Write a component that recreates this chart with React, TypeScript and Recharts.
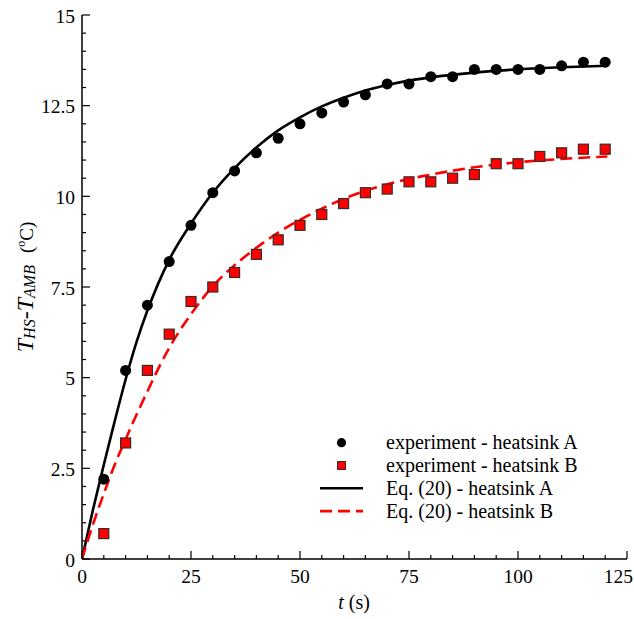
import React from "react";
import { ComposedChart, XAxis, YAxis, Line, Scatter } from "recharts";

// ---- data ----
const expT = [5, 10, 15, 20, 25, 30, 35, 40, 45, 50, 55, 60, 65, 70, 75, 80, 85, 90, 95, 100, 105, 110, 115, 120];
const expA = [2.2, 5.2, 7.0, 8.2, 9.2, 10.1, 10.7, 11.2, 11.6, 12.0, 12.3, 12.6, 12.8, 13.1, 13.1, 13.3, 13.3, 13.5, 13.5, 13.5, 13.5, 13.6, 13.7, 13.7];
const expB = [0.7, 3.2, 5.2, 6.2, 7.1, 7.5, 7.9, 8.4, 8.8, 9.2, 9.5, 9.8, 10.1, 10.2, 10.4, 10.4, 10.5, 10.6, 10.9, 10.9, 11.1, 11.2, 11.3, 11.3];

const curveT = [0, 2.5, 5, 7.5, 10, 12.5, 15, 17.5, 20, 25, 30, 35, 40, 45, 50, 55, 60, 65, 70, 75, 80, 90, 100, 110, 120.5];
const curveA = [0, 1.35, 2.6, 3.8, 4.95, 5.98, 6.85, 7.6, 8.25, 9.25, 10.1, 10.78, 11.35, 11.82, 12.18, 12.48, 12.72, 12.92, 13.07, 13.19, 13.28, 13.41, 13.5, 13.56, 13.6];
const curveB = [0, 0.95, 1.8, 2.6, 3.3, 3.98, 4.62, 5.25, 5.82, 6.75, 7.52, 8.1, 8.58, 9.0, 9.35, 9.66, 9.93, 10.15, 10.33, 10.48, 10.6, 10.8, 10.94, 11.03, 11.1];

const xMajorTicks = [0, 25, 50, 75, 100, 125];
const yMajorTicks = [0, 2.5, 5, 7.5, 10, 12.5, 15];
const legendLabels = [
  "experiment - heatsink A",
  "experiment - heatsink B",
  "Eq. (20) - heatsink A",
  "Eq. (20) - heatsink B",
];

// minor tick positions (axis furniture)
const xAllTicks: number[] = [];
for (let v = 0; v <= 125; v += 5) xAllTicks.push(v);
const yAllTicks: number[] = [];
for (let i = 0; i <= 30; i++) yAllTicks.push(i * 0.5);

const ptsA = expT.map((t, i) => ({ t, v: expA[i] }));
const ptsB = expT.map((t, i) => ({ t, v: expB[i] }));
const lineA = curveT.map((t, i) => ({ t, v: curveA[i] }));
const lineB = curveT.map((t, i) => ({ t, v: curveB[i] }));

const FONT = '"Liberation Serif", "DejaVu Serif", serif';
const TICK_FS = 19.5;
const FS = 20;
const MAJOR = 8;
const MINOR = 4;

const isMajorX = (v: number) => xMajorTicks.indexOf(v) >= 0;
const isMajorY = (v: number) => yMajorTicks.indexOf(v) >= 0;

const BottomTick = (p: any) => {
  const { x, y, payload } = p;
  const major = isMajorX(payload.value);
  const last = payload.value === xMajorTicks[xMajorTicks.length - 1];
  return (
    <g>
      <line x1={x} x2={x} y1={y} y2={y - (major ? MAJOR : MINOR)} stroke="#000" strokeWidth={1.2} />
      {major && (
        <text
          x={last ? x + 6 : x}
          y={y + 24}
          textAnchor={last ? "end" : "middle"}
          style={{ fontFamily: FONT, fontSize: TICK_FS }}
          fill="#000"
        >
          {payload.value}
        </text>
      )}
    </g>
  );
};
const TopTick = (p: any) => {
  const { x, y, payload } = p;
  const major = isMajorX(payload.value);
  return <line x1={x} x2={x} y1={y} y2={y + (major ? MAJOR : MINOR)} stroke="#000" strokeWidth={1.2} />;
};
const LeftTick = (p: any) => {
  const { x, y, payload } = p;
  const major = isMajorY(payload.value);
  return (
    <g>
      <line x1={x} x2={x + (major ? MAJOR : MINOR)} y1={y} y2={y} stroke="#000" strokeWidth={1.2} />
      {major && (
        <text x={x - 7} y={y + 7.5} textAnchor="end" style={{ fontFamily: FONT, fontSize: TICK_FS }} fill="#000">
          {payload.value}
        </text>
      )}
    </g>
  );
};
const RightTick = (p: any) => {
  const { x, y, payload } = p;
  const major = isMajorY(payload.value);
  return <line x1={x} x2={x - (major ? MAJOR : MINOR)} y1={y} y2={y} stroke="#000" strokeWidth={1.2} />;
};

const CircleShape = (p: any) => <circle cx={p.cx} cy={p.cy} r={5.5} fill="#000" />;
const SquareShape = (p: any) => (
  <rect x={p.cx - 5} y={p.cy - 5} width={10} height={10} fill="#ff0000" stroke="#3a2a2a" strokeWidth={1.2} />
);

// legend drawn inside the plot (lower right), as in the reference
const LegendBlock = () => {
  const left = 315;
  const top = 431.3;
  const rowH = 22.8;
  const iconCx = left + 26.5;
  const icons = (i: number, cy: number) => {
    if (i === 0) return <circle cx={iconCx} cy={cy} r={4.6} fill="#000" />;
    if (i === 1)
      return <rect x={iconCx - 4} y={cy - 4} width={8} height={8} fill="#ff0000" stroke="#3a2a2a" strokeWidth={1} />;
    if (i === 2) return <line x1={left + 5} x2={left + 48} y1={cy} y2={cy} stroke="#000" strokeWidth={2.6} />;
    return (
      <line x1={left + 5} x2={left + 48} y1={cy} y2={cy} stroke="#ff0000" strokeWidth={2.6} strokeDasharray="12 6" />
    );
  };
  return (
    <g>
      {legendLabels.map((lab, i) => {
        const cy = top + rowH * i + rowH / 2;
        return (
          <g key={lab}>
            {icons(i, cy)}
            <text x={left + 71} y={cy + 6.5} style={{ fontFamily: FONT, fontSize: FS }} fill="#000">
              {lab}
            </text>
          </g>
        );
      })}
    </g>
  );
};

export default function App() {
  return (
    <div style={{ position: "absolute", left: 0, top: 0, width: 634, height: 619, background: "#fff" }}>
      <ComposedChart width={634} height={619} margin={{ top: 15, right: 7, bottom: 0, left: 0 }}>
        <XAxis
          xAxisId="b"
          dataKey="t"
          type="number"
          domain={[0, 125]}
          ticks={xAllTicks}
          interval={0}
          height={60}
          tickSize={0}
          tickMargin={0}
          tickLine={false}
          tick={(p: any) => <BottomTick {...p} />}
          axisLine={{ stroke: "#000", strokeWidth: 1.5 }}
          allowDataOverflow
        />
        <XAxis
          xAxisId="top"
          orientation="top"
          type="number"
          domain={[0, 125]}
          ticks={xAllTicks}
          interval={0}
          height={0}
          tickSize={0}
          tickMargin={0}
          tickLine={false}
          tick={(p: any) => <TopTick {...p} />}
          axisLine={{ stroke: "#000", strokeWidth: 1.5 }}
          allowDataOverflow
        />
        <YAxis
          yAxisId="l"
          dataKey="v"
          type="number"
          domain={[0, 15]}
          ticks={yAllTicks}
          interval={0}
          width={82}
          tickSize={0}
          tickMargin={0}
          tickLine={false}
          tick={(p: any) => <LeftTick {...p} />}
          axisLine={{ stroke: "#000", strokeWidth: 1.5 }}
          allowDataOverflow
        />
        <YAxis
          yAxisId="r"
          orientation="right"
          type="number"
          domain={[0, 15]}
          ticks={yAllTicks}
          interval={0}
          width={0}
          tickSize={0}
          tickMargin={0}
          tickLine={false}
          tick={(p: any) => <RightTick {...p} />}
          axisLine={{ stroke: "#000", strokeWidth: 1.5 }}
          allowDataOverflow
        />
        <Line
          xAxisId="b"
          yAxisId="l"
          data={lineA}
          dataKey="v"
          type="monotone"
          stroke="#000"
          strokeWidth={2.6}
          dot={false}
          activeDot={false}
          isAnimationActive={false}
        />
        <Line
          xAxisId="b"
          yAxisId="l"
          data={lineB}
          dataKey="v"
          type="monotone"
          stroke="#ff0000"
          strokeWidth={2.6}
          strokeDasharray="12 6"
          dot={false}
          activeDot={false}
          isAnimationActive={false}
        />
        <Scatter xAxisId="b" yAxisId="l" data={ptsA} dataKey="v" shape={CircleShape} isAnimationActive={false} />
        <Scatter xAxisId="b" yAxisId="l" data={ptsB} dataKey="v" shape={SquareShape} isAnimationActive={false} />
        <LegendBlock />
        <text x={354} y={609} textAnchor="middle" style={{ fontFamily: FONT, fontSize: FS }} fill="#000">
          <tspan fontStyle="italic">t</tspan>
          <tspan> (s)</tspan>
        </text>
        <text
          transform="translate(33,287) rotate(-90)"
          textAnchor="middle"
          style={{ fontFamily: FONT, fontSize: 24 }}
          fill="#000"
        >
          <tspan fontStyle="italic">T</tspan>
          <tspan fontStyle="italic" fontSize={16} dy={2}>HS</tspan>
          <tspan fontStyle="italic" dy={-2}>-T</tspan>
          <tspan fontStyle="italic" fontSize={16} dy={2}>AMB</tspan>
          <tspan fontSize={19} dx={12} dy={-2}>(</tspan>
          <tspan fontSize={12} dy={-8}>o</tspan>
          <tspan fontSize={19} dy={8}>C)</tspan>
        </text>
      </ComposedChart>
    </div>
  );
}
